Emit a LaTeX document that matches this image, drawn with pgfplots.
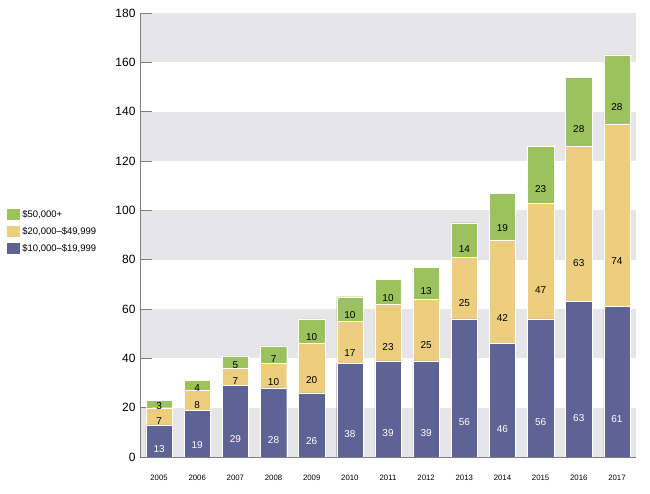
\documentclass[border=0pt]{standalone}
\usepackage{pgfplots}
\pgfplotsset{compat=1.18}
\usepackage{fontspec}
\setmainfont{Liberation Sans}
\definecolor{cblue}{HTML}{5E6395}
\definecolor{cyel}{HTML}{EDCE7E}
\definecolor{cgreen}{HTML}{9BC25D}
\definecolor{band}{HTML}{E6E6E8}
\definecolor{axgray}{HTML}{7F7F7F}
\begin{document}
\begin{tikzpicture}
\begin{axis}[
  scale only axis, width=496pt, height=444pt,
  xmin=-0.5, xmax=12.5, ymin=0, ymax=180,
  hide axis,
]
\fill[band] (axis cs:-0.5,0) rectangle (axis cs:12.5,20);
\fill[band] (axis cs:-0.5,40) rectangle (axis cs:12.5,60);
\fill[band] (axis cs:-0.5,80) rectangle (axis cs:12.5,100);
\fill[band] (axis cs:-0.5,120) rectangle (axis cs:12.5,140);
\fill[band] (axis cs:-0.5,160) rectangle (axis cs:12.5,180);
\end{axis}
\begin{axis}[
  scale only axis, width=496pt, height=444pt,
  xmin=-0.5, xmax=12.5, ymin=0, ymax=180,
  ybar stacked, bar width=0.69,
  axis x line=bottom, axis y line=left,
  axis line style={axgray, line width=0.8pt, -},
  xtick={0,...,12},
  xticklabels={2005,2006,2007,2008,2009,2010,2011,2012,2013,2014,2015,2016,2017},
  x tick style={draw=none},
  minor xtick={0.5,1.5,...,12.5},
  minor x tick style={axgray!80, line width=0.8pt},
  minor tick length=9pt,
  major tick length=12pt,
  tick align=inside,
  ytick={0,20,...,180},
  y tick style={axgray, line width=0.8pt},
  /pgf/number format/assume math mode=true,
  yticklabel style={font=\fontsize{12}{14}\selectfont, xshift=-1pt},
  xticklabel style={font=\fontsize{7.8}{9}\selectfont, yshift=-15pt},
  point meta=rawy,
  visualization depends on={rawy \as \rawy},
  nodes near coords,
  every node near coord/.append style={anchor=center, yshift={-\rawy*0.6166667pt}, font=\fontsize{10}{11}\selectfont},
  legend image code/.code={\fill[#1,draw=none] (0pt,-5pt) rectangle (13pt,6pt);},
  reverse legend,
  legend cell align=left,
  legend style={draw=none, fill=none, at={(rel axis cs:-0.268,0.507)}, anchor=west, inner sep=0pt,
    font=\fontsize{9.5}{11}\selectfont, row sep=4.5pt,
    /tikz/every even column/.append style={column sep=3pt}},
]
\addplot[fill=cblue, draw=white, line width=0.3pt, every node near coord/.append style={text=white}] coordinates {
(0,13) (1,19) (2,29) (3,28) (4,26) (5,38) (6,39) (7,39) (8,56) (9,46) (10,56) (11,63) (12,61)};
\addplot[fill=cyel, draw=white, line width=0.3pt, every node near coord/.append style={text=black}] coordinates {
(0,7) (1,8) (2,7) (3,10) (4,20) (5,17) (6,23) (7,25) (8,25) (9,42) (10,47) (11,63) (12,74)};
\addplot[fill=cgreen, draw=white, line width=0.3pt, every node near coord/.append style={text=black}] coordinates {
(0,3) (1,4) (2,5) (3,7) (4,10) (5,10) (6,10) (7,13) (8,14) (9,19) (10,23) (11,28) (12,28)};
\legend{{\$10,000–\$19,999}, {\$20,000–\$49,999}, {\$50,000+}}
\end{axis}
\pgfresetboundingbox
\path[use as bounding box] (current axis.south west) ++(-140pt,-37pt) rectangle ++(650pt,494pt);
\end{tikzpicture}
\end{document}
